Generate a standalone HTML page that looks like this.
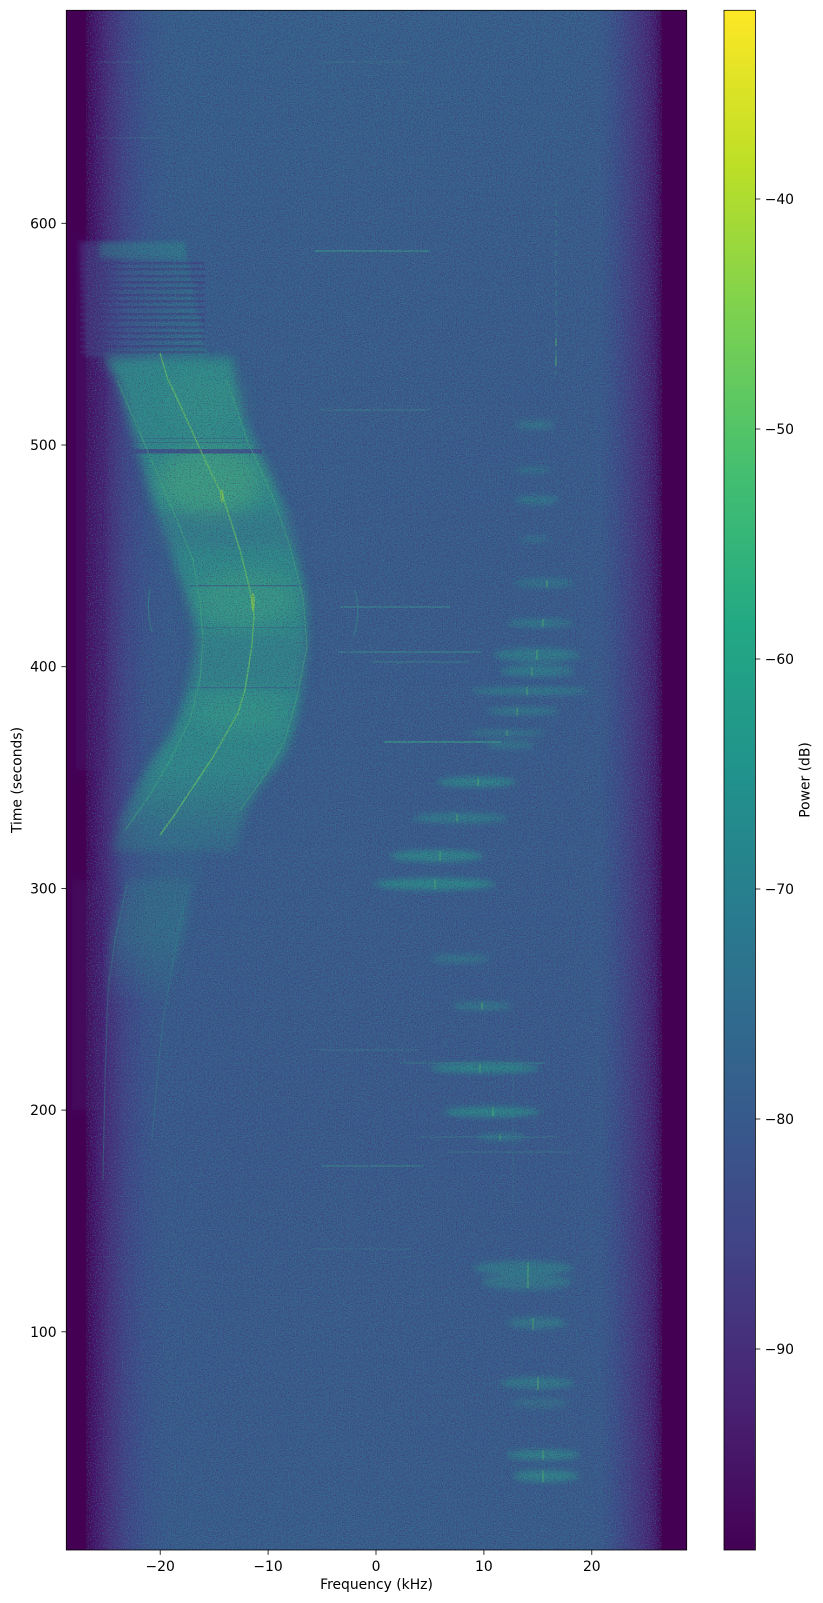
<!DOCTYPE html>
<html><head><meta charset="utf-8"><style>
html,body{margin:0;padding:0;background:#fff;}
svg{display:block;}
text{font-family:"DejaVu Sans","Liberation Sans",sans-serif;font-size:13.9px;fill:#000;}
</style></head><body>
<svg width="823" height="1603" viewBox="0 0 823 1603" xmlns="http://www.w3.org/2000/svg">
<defs>
 <clipPath id="pc"><rect x="66.3" y="10.3" width="620.4" height="1539.7"/></clipPath>
 <linearGradient id="edge" x1="66.3" x2="686.7" y1="0" y2="0" gradientUnits="userSpaceOnUse">
  <stop offset="0" stop-color="#440154"/>
  <stop offset="0.0334" stop-color="#440154"/>
  <stop offset="0.0463" stop-color="#46106a"/>
  <stop offset="0.0672" stop-color="#472b7a"/>
  <stop offset="0.0946" stop-color="#414388"/>
  <stop offset="0.1269" stop-color="#3b538b"/>
  <stop offset="0.1591" stop-color="#395a8c"/>
  <stop offset="0.4247" stop-color="#3a5c8c"/>
  <stop offset="0.8603" stop-color="#3a5a8c"/>
  <stop offset="0.8845" stop-color="#3d4e8a"/>
  <stop offset="0.9087" stop-color="#433d84"/>
  <stop offset="0.9329" stop-color="#472a7a"/>
  <stop offset="0.9490" stop-color="#46176c"/>
  <stop offset="0.9587" stop-color="#440154"/>
  <stop offset="1" stop-color="#440154"/>
 </linearGradient>
 <linearGradient id="vt" x1="0" y1="10" x2="0" y2="1550" gradientUnits="userSpaceOnUse">
  <stop offset="0" stop-color="#34688d" stop-opacity="0.3"/>
  <stop offset="0.15" stop-color="#34688d" stop-opacity="0.12"/>
  <stop offset="0.55" stop-color="#3c4f89" stop-opacity="0"/>
  <stop offset="0.72" stop-color="#3d4d89" stop-opacity="0.15"/>
  <stop offset="0.85" stop-color="#3c5089" stop-opacity="0.04"/>
  <stop offset="1" stop-color="#34658d" stop-opacity="0.2"/>
 </linearGradient>
 <linearGradient id="mxg" x1="66" x2="687" y1="0" y2="0" gradientUnits="userSpaceOnUse">
  <stop offset="0" stop-color="#000"/>
  <stop offset="0.1" stop-color="#000"/>
  <stop offset="0.2" stop-color="#fff"/>
  <stop offset="0.8" stop-color="#fff"/>
  <stop offset="0.9" stop-color="#000"/>
  <stop offset="1" stop-color="#000"/>
 </linearGradient>
 <mask id="mx" maskUnits="userSpaceOnUse" x="66" y="10" width="621" height="1540">
  <rect x="66" y="10" width="621" height="1540" fill="url(#mxg)"/>
 </mask>
 <linearGradient id="fadeg" x1="0" y1="300" x2="0" y2="1010" gradientUnits="userSpaceOnUse">
  <stop offset="0" stop-color="#fff"/>
  <stop offset="0.66" stop-color="#fff"/>
  <stop offset="0.76" stop-color="#666"/>
  <stop offset="0.82" stop-color="#aaa"/>
  <stop offset="0.9" stop-color="#bbb"/>
  <stop offset="1" stop-color="#000"/>
 </linearGradient>
 <mask id="fade" maskUnits="userSpaceOnUse" x="66" y="300" width="300" height="710">
  <rect x="66" y="300" width="300" height="710" fill="url(#fadeg)"/>
 </mask>
 <linearGradient id="strp" x1="80" x2="207" y1="0" y2="0" gradientUnits="userSpaceOnUse">
  <stop offset="0" stop-color="#472e7c"/>
  <stop offset="0.35" stop-color="#3b5a8c"/>
  <stop offset="1" stop-color="#30788d"/>
 </linearGradient>
 <linearGradient id="vir" x1="0" y1="1" x2="0" y2="0">
  <stop offset="0" stop-color="#440154"/>
  <stop offset="0.1" stop-color="#482475"/>
  <stop offset="0.2" stop-color="#414487"/>
  <stop offset="0.3" stop-color="#355f8d"/>
  <stop offset="0.4" stop-color="#2a788e"/>
  <stop offset="0.5" stop-color="#21918c"/>
  <stop offset="0.6" stop-color="#22a884"/>
  <stop offset="0.7" stop-color="#44bf70"/>
  <stop offset="0.8" stop-color="#7ad151"/>
  <stop offset="0.9" stop-color="#bddf26"/>
  <stop offset="1" stop-color="#fde725"/>
 </linearGradient>
 <filter id="b2" x="-20%" y="-50%" width="140%" height="200%"><feGaussianBlur stdDeviation="2"/></filter>
 <filter id="b3" x="-30%" y="-100%" width="160%" height="300%"><feGaussianBlur stdDeviation="3"/></filter>
 <filter id="b5" x="-30%" y="-30%" width="160%" height="160%"><feGaussianBlur stdDeviation="5"/></filter>
 <filter id="b10" x="-50%" y="-50%" width="200%" height="200%"><feGaussianBlur stdDeviation="10"/></filter>
 <filter id="nz" filterUnits="userSpaceOnUse" x="86" y="10" width="576" height="1540" color-interpolation-filters="sRGB">
  <feTurbulence type="fractalNoise" baseFrequency="0.85" numOctaves="2" seed="11" result="t"/>
  <feColorMatrix in="t" type="matrix" result="d" values="0 0 0 0 0.27  0 0 0 0 0.12  0 0 0 0 0.45  -4 0 0 0 2"/>
  <feColorMatrix in="t" type="matrix" result="l" values="0 0 0 0 0.20  0 0 0 0 0.56  0 0 0 0 0.55  0 4 0 0 -2"/>
  <feMerge><feMergeNode in="d"/><feMergeNode in="l"/></feMerge>
 </filter>
</defs>

<g clip-path="url(#pc)">
 <rect x="66.3" y="10.3" width="620.4" height="1539.7" fill="url(#edge)"/>
 <rect x="66.3" y="10.3" width="620.4" height="1539.7" fill="url(#vt)" mask="url(#mx)"/>

 <!-- left edge stripes -->
 <g filter="url(#b5)">
  <rect x="76" y="240" width="26" height="530" fill="#46196b" opacity="0.45"/>
  <rect x="72" y="880" width="28" height="230" fill="#46196b" opacity="0.35"/>
 </g>

 <!-- upper striped region -->
 <polygon points="80,242 185,242 195,300 207,357 103,357 85,357" fill="url(#strp)" opacity="0.7" filter="url(#b2)"/>
 <rect x="100" y="242" width="85" height="16" fill="#2e8a8b" opacity="0.4" filter="url(#b2)"/>
 <g fill="#452f7c" opacity="0.45">
  <rect x="80" y="262" width="125" height="2.5"/><rect x="80" y="268" width="125" height="2.5"/>
  <rect x="80" y="275" width="125" height="2.5"/><rect x="80" y="281" width="125" height="2.5"/>
  <rect x="80" y="287" width="125" height="2.5"/><rect x="80" y="294" width="125" height="2.5"/>
  <rect x="80" y="300" width="125" height="2.5"/><rect x="80" y="306" width="125" height="2.5"/>
  <rect x="80" y="313" width="125" height="2.5"/><rect x="80" y="319" width="125" height="2.5"/>
  <rect x="80" y="326" width="125" height="2.5"/><rect x="80" y="332" width="125" height="2.5"/>
  <rect x="80" y="338" width="125" height="2.5"/><rect x="80" y="345" width="125" height="2.5"/>
  <rect x="80" y="351" width="125" height="2.5"/>
 </g>

 <g mask="url(#fade)">
 <!-- main arc band -->
 <polygon points="103,357 117,380 127,413 137,447 147,480 157,513 170,547 180,580 193,613 196,647 190,680 180,713 170,735 157,753 137,787 120,820 112,850 236,850 246,810 260,787 277,765 287,750 295,725 302,690 307,647 307,613 303,580 295,547 287,513 273,480 257,447 242,413 235,380 233,357" fill="#2e9689" opacity="0.82" filter="url(#b5)"/>
 <g filter="url(#b10)">
  <ellipse cx="210" cy="482" rx="52" ry="35" fill="#4cb679" opacity="0.5"/>
  <ellipse cx="245" cy="600" rx="52" ry="28" fill="#40ad80" opacity="0.45"/>
  <ellipse cx="205" cy="400" rx="40" ry="30" fill="#3aa085" opacity="0.3"/>
  <ellipse cx="240" cy="712" rx="48" ry="20" fill="#3aa884" opacity="0.4"/>
 </g>
 <g filter="url(#b5)">
  <rect x="150" y="512" width="150" height="36" fill="#3a5d8c" opacity="0.25"/>
  <rect x="190" y="635" width="120" height="50" fill="#3a5d8c" opacity="0.15"/>
 </g>
 <!-- lower band -->
 <polygon points="127,880 192,880 188,920 177,960 168,1000 104,1000 110,950 117,915" fill="#2f868b" opacity="0.6" filter="url(#b5)"/>
 </g>
 <!-- faint band continuation -->
 <rect x="115" y="835" width="85" height="50" fill="#2e7f8c" opacity="0.15" filter="url(#b5)"/>
 <!-- dark lines within band -->
 <rect x="127" y="449" width="135" height="4.5" fill="#3f4a88" opacity="0.85"/>
 <rect x="130" y="438" width="120" height="1" fill="#3f4a88" opacity="0.4"/>
 <rect x="130" y="442" width="120" height="1" fill="#3f4a88" opacity="0.4"/>
 <rect x="190" y="585" width="113" height="1.3" fill="#3b4e89" opacity="0.6"/>
 <rect x="190" y="627" width="117" height="1" fill="#3b4e89" opacity="0.4"/>
 <rect x="190" y="687" width="113" height="1.3" fill="#3b4e89" opacity="0.5"/>
 <!-- bright curved lines -->
 <g fill="none" stroke-linejoin="round">
  <path d="M160,353 L167,377 L187,420 L205,460 L223,497 L240,550 L250,590 L254,615 L252,645 L245,690 L238,713 L230,727 L213,757 L193,787 L173,817 L160,835" stroke="#6ccd5e" stroke-width="1.5" opacity="0.65"/>
  <path d="M117,380 L140,433 L160,480 L177,520 L193,560 L200,600 L203,640 L200,680 L190,720 L170,760 L150,795 L125,830" stroke="#48b87a" stroke-width="1.2" opacity="0.45"/>
  <path d="M227,380 L247,440 L273,497 L290,547 L303,597 L307,647 L297,697 L285,740 L265,775 L240,810" stroke="#48b87a" stroke-width="1.2" opacity="0.45"/>
 </g>
 <ellipse cx="253" cy="602" rx="2" ry="9" fill="#a8db34" opacity="0.5"/>
 <ellipse cx="222" cy="496" rx="2" ry="7" fill="#a8db34" opacity="0.4"/>

 <g fill="none" stroke="#2fa08a" stroke-width="1.2">
  <path d="M127,885 L115,940 L108,990 L105,1080 L103,1180" opacity="0.35"/>
  <path d="M188,885 L175,950 L163,1020 L157,1080 L152,1140" opacity="0.3"/>
  <path d="M150,588 Q146,610 152,632" opacity="0.5"/>
  <path d="M355,590 Q361,612 354,636" opacity="0.5"/>
 </g>

 <!-- thin horizontal lines -->
 <g stroke="#3aa38a" fill="none">
  <line x1="315" y1="251" x2="430" y2="251" stroke-width="1.3" opacity="0.75"/>
  <line x1="320" y1="410" x2="430" y2="410" stroke-width="1" opacity="0.45"/>
  <line x1="340" y1="607" x2="450" y2="607" stroke-width="1.2" opacity="0.6"/>
  <line x1="338" y1="652" x2="481" y2="652" stroke-width="1.2" opacity="0.6"/>
  <line x1="373" y1="662" x2="470" y2="662" stroke-width="1" opacity="0.5"/>
  <line x1="384" y1="742" x2="501" y2="742" stroke-width="1.4" opacity="0.8"/>
  <line x1="320" y1="1050" x2="420" y2="1050" stroke-width="1" opacity="0.35"/>
  <line x1="400" y1="1063" x2="545" y2="1063" stroke-width="1" opacity="0.4"/>
  <line x1="420" y1="1137" x2="557" y2="1137" stroke-width="1" opacity="0.35"/>
  <line x1="447" y1="1152" x2="570" y2="1152" stroke-width="1" opacity="0.4"/>
  <line x1="322" y1="1166" x2="423" y2="1166" stroke-width="1.2" opacity="0.55"/>
  <line x1="310" y1="1249" x2="410" y2="1249" stroke-width="1" opacity="0.25"/>
  <line x1="100" y1="62" x2="142" y2="62" stroke-width="1" opacity="0.3"/>
  <line x1="324" y1="62" x2="408" y2="62" stroke-width="1" opacity="0.3"/>
  <line x1="96" y1="138" x2="167" y2="138" stroke-width="1" opacity="0.25"/>
  <line x1="556" y1="200" x2="556" y2="375" stroke-width="1.3" stroke-dasharray="6 4" opacity="0.4"/>
  <line x1="513" y1="1040" x2="513" y2="1207" stroke-width="1" opacity="0.18"/>
 </g>

 <!-- right side blobs -->
 <g fill="#2a968a" filter="url(#b3)">
  <ellipse cx="535" cy="425" rx="20" ry="4" opacity="0.45"/>
  <ellipse cx="533" cy="470" rx="18" ry="3" opacity="0.4"/>
  <ellipse cx="537" cy="500" rx="22" ry="4" opacity="0.5"/>
  <ellipse cx="535" cy="539" rx="16" ry="3" opacity="0.35"/>
  <ellipse cx="545" cy="583" rx="30" ry="5" opacity="0.4"/>
  <ellipse cx="540" cy="623" rx="33" ry="4" opacity="0.55"/>
  <ellipse cx="537" cy="655" rx="43" ry="7" opacity="0.55"/>
  <ellipse cx="537" cy="671" rx="37" ry="6" opacity="0.55"/>
  <ellipse cx="530" cy="691" rx="60" ry="4" opacity="0.55"/>
  <ellipse cx="523" cy="711" rx="37" ry="4" opacity="0.5"/>
  <ellipse cx="507" cy="733" rx="40" ry="3" opacity="0.5"/>
  <ellipse cx="510" cy="745" rx="25" ry="4" opacity="0.45"/>
  <ellipse cx="477" cy="782" rx="40" ry="5" opacity="0.7"/>
  <ellipse cx="460" cy="818" rx="47" ry="5" opacity="0.55"/>
  <ellipse cx="437" cy="856" rx="47" ry="6" opacity="0.7"/>
  <ellipse cx="435" cy="884" rx="60" ry="6" opacity="0.75"/>
  <ellipse cx="460" cy="959" rx="30" ry="4" opacity="0.45"/>
  <ellipse cx="482" cy="1006" rx="30" ry="4" opacity="0.5"/>
  <ellipse cx="485" cy="1068" rx="55" ry="5" opacity="0.75"/>
  <ellipse cx="492" cy="1112" rx="48" ry="5" opacity="0.75"/>
  <ellipse cx="502" cy="1137" rx="25" ry="3" opacity="0.55"/>
  <ellipse cx="523" cy="1268" rx="50" ry="7" opacity="0.5"/>
  <ellipse cx="527" cy="1282" rx="45" ry="8" opacity="0.45"/>
  <ellipse cx="537" cy="1323" rx="30" ry="6" opacity="0.45"/>
  <ellipse cx="537" cy="1383" rx="37" ry="6" opacity="0.5"/>
  <ellipse cx="540" cy="1403" rx="30" ry="5" opacity="0.3"/>
  <ellipse cx="543" cy="1455" rx="37" ry="5" opacity="0.65"/>
  <ellipse cx="546" cy="1476" rx="33" ry="6" opacity="0.65"/>
 </g>
 <g stroke="#5ec962" stroke-width="1.3" opacity="0.5">
  <line x1="547" y1="580" x2="547" y2="588"/><line x1="543" y1="619" x2="543" y2="627"/>
  <line x1="537" y1="650" x2="537" y2="660"/><line x1="532" y1="667" x2="532" y2="676"/>
  <line x1="527" y1="687" x2="527" y2="695"/><line x1="517" y1="707" x2="517" y2="715"/>
  <line x1="507" y1="730" x2="507" y2="736"/><line x1="478" y1="778" x2="478" y2="786"/>
  <line x1="457" y1="814" x2="457" y2="822"/><line x1="440" y1="851" x2="440" y2="861"/>
  <line x1="435" y1="879" x2="435" y2="889"/><line x1="482" y1="1002" x2="482" y2="1010"/>
  <line x1="480" y1="1064" x2="480" y2="1073"/><line x1="493" y1="1107" x2="493" y2="1117"/>
  <line x1="500" y1="1134" x2="500" y2="1140"/><line x1="528" y1="1262" x2="528" y2="1288"/>
  <line x1="533" y1="1318" x2="533" y2="1330"/><line x1="538" y1="1377" x2="538" y2="1390"/>
  <line x1="543" y1="1450" x2="543" y2="1460"/><line x1="543" y1="1470" x2="543" y2="1482"/>
  <line x1="556" y1="338" x2="556" y2="346"/><line x1="556" y1="356" x2="556" y2="366"/>
 </g>

 <!-- noise texture -->
 <rect x="86" y="10" width="576" height="1540" filter="url(#nz)" opacity="0.5"/>
</g>

<!-- axes frame -->
<rect x="66.3" y="10.3" width="620.4" height="1539.7" fill="none" stroke="#000" stroke-width="0.8"/>
<g stroke="#000" stroke-width="0.8">
 <line x1="61.4" y1="223.3" x2="66.3" y2="223.3"/>
 <line x1="61.4" y1="445" x2="66.3" y2="445"/>
 <line x1="61.4" y1="666.7" x2="66.3" y2="666.7"/>
 <line x1="61.4" y1="888.4" x2="66.3" y2="888.4"/>
 <line x1="61.4" y1="1110.1" x2="66.3" y2="1110.1"/>
 <line x1="61.4" y1="1331.8" x2="66.3" y2="1331.8"/>
 <line x1="160.2" y1="1550" x2="160.2" y2="1554.9"/>
 <line x1="268.1" y1="1550" x2="268.1" y2="1554.9"/>
 <line x1="376" y1="1550" x2="376" y2="1554.9"/>
 <line x1="483.9" y1="1550" x2="483.9" y2="1554.9"/>
 <line x1="591.8" y1="1550" x2="591.8" y2="1554.9"/>
</g>
<g text-anchor="end">
 <text x="56.6" y="228.3">600</text>
 <text x="56.6" y="450">500</text>
 <text x="56.6" y="671.7">400</text>
 <text x="56.6" y="893.4">300</text>
 <text x="56.6" y="1115.1">200</text>
 <text x="56.6" y="1336.8">100</text>
</g>
<g text-anchor="middle">
 <text x="160.2" y="1571">−20</text>
 <text x="268.1" y="1571">−10</text>
 <text x="376" y="1571">0</text>
 <text x="483.9" y="1571">10</text>
 <text x="591.8" y="1571">20</text>
 <text x="376.5" y="1589">Frequency (kHz)</text>
 <text transform="translate(21.3,780) rotate(-90)">Time (seconds)</text>
</g>

<!-- colorbar -->
<rect x="724" y="10.3" width="31.4" height="1539.7" fill="url(#vir)" stroke="#000" stroke-width="0.8"/>
<g stroke="#000" stroke-width="0.8">
 <line x1="755.4" y1="199" x2="760.3" y2="199"/>
 <line x1="755.4" y1="429" x2="760.3" y2="429"/>
 <line x1="755.4" y1="659" x2="760.3" y2="659"/>
 <line x1="755.4" y1="889" x2="760.3" y2="889"/>
 <line x1="755.4" y1="1119" x2="760.3" y2="1119"/>
 <line x1="755.4" y1="1349" x2="760.3" y2="1349"/>
</g>
<g>
 <text x="764.7" y="204">−40</text>
 <text x="764.7" y="434">−50</text>
 <text x="764.7" y="664">−60</text>
 <text x="764.7" y="894">−70</text>
 <text x="764.7" y="1124">−80</text>
 <text x="764.7" y="1354">−90</text>
</g>
<text transform="translate(809.4,780) rotate(-90)" text-anchor="middle">Power (dB)</text>
</svg>
</body></html>
